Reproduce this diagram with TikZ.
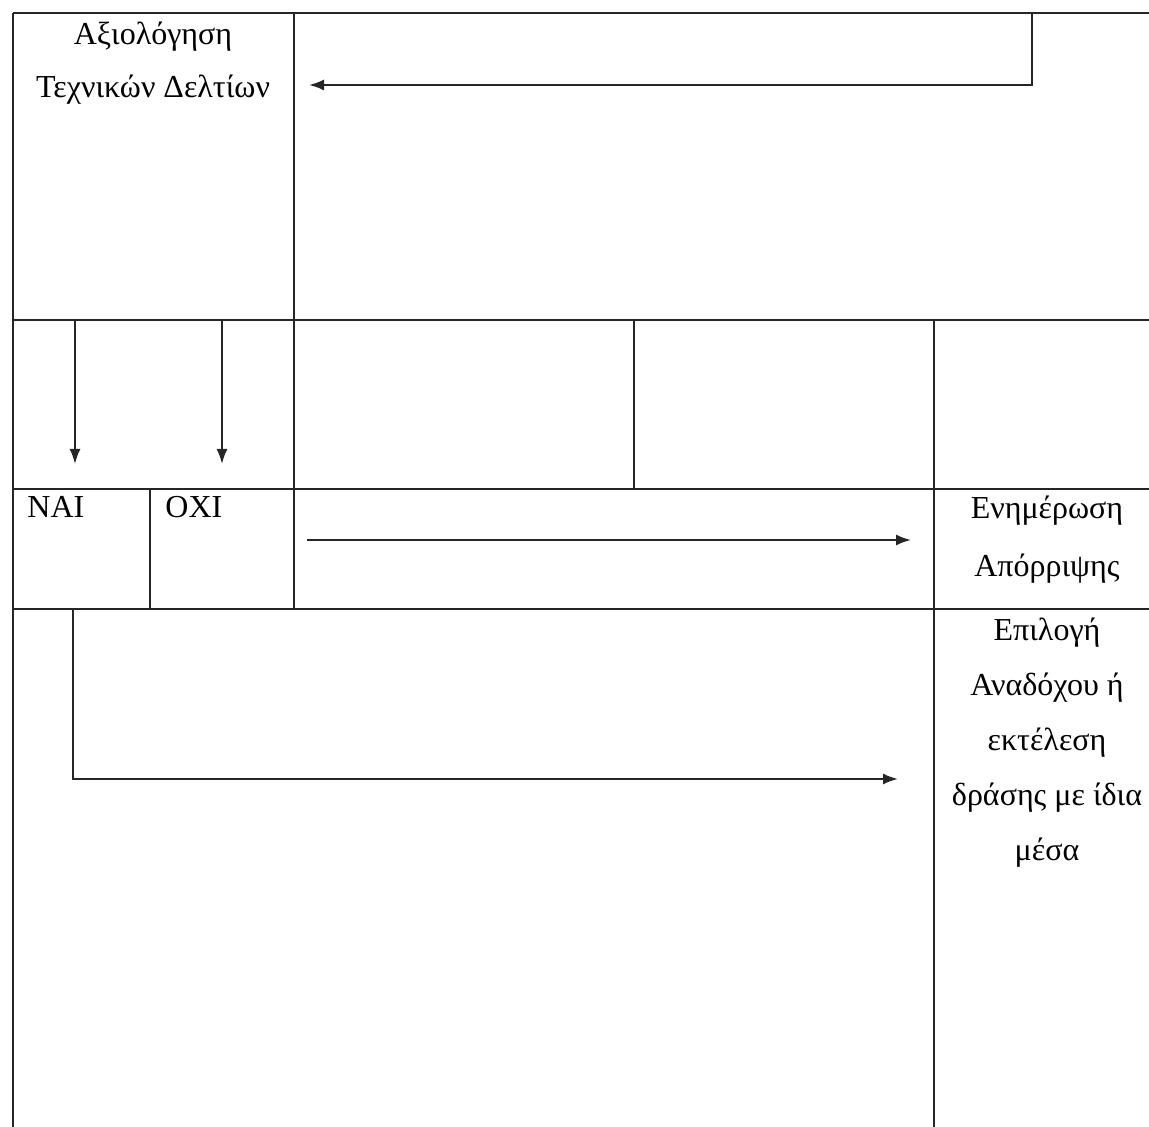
\documentclass[tikz,border=0pt]{standalone}
\usepackage{fontspec}
\setmainfont{Liberation Serif}
\usetikzlibrary{arrows.meta}
\tikzset{
  rule/.style={line width=1pt, draw=black!85},
  flow/.style={line width=1pt, draw=black!85, -{Latex[length=7.5pt,width=5.5pt]}},
  lbl/.style={anchor=base, inner sep=0pt, font=\fontsize{16pt}{19pt}\selectfont}
}
\begin{document}
\begin{tikzpicture}[x=0.5pt,y=-0.5pt]
\useasboundingbox (0,0) rectangle (1149,1127);
% table rules
\draw[rule] (13,13) -- (1149,13);
\draw[rule] (13,13) -- (13,1127);
\draw[rule] (294,13) -- (294,609);
\draw[rule] (13,320) -- (1149,320);
\draw[rule] (634,320) -- (634,489);
\draw[rule] (934,320) -- (934,1127);
\draw[rule] (13,489) -- (1149,489);
\draw[rule] (150,489) -- (150,609);
\draw[rule] (13,609) -- (1149,609);
% texts
\node[lbl] (t1a) at (153,45) {Αξιολόγηση};
\node[lbl] (t1b) at (153,98) {Τεχνικών Δελτίων};
\node[lbl, anchor=base west] (nai) at (27,517) {NAI};
\node[lbl, anchor=base west] (oxi) at (165,517) {OXI};
\node[lbl] (r1) at (1047,518) {Ενημέρωση};
\node[lbl] (r2) at (1047,576) {Απόρριψης};
\node[lbl] (s1) at (1047,640) {Επιλογή};
\node[lbl] (s2) at (1047,695) {Αναδόχου ή};
\node[lbl] (s3) at (1047,750) {εκτέλεση};
\node[lbl] (s4) at (1047,805) {δράσης με ίδια};
\node[lbl] (s5) at (1047,860) {μέσα};
% connector coordinates
\coordinate (aS) at (1032,13);
\coordinate (aC) at (1032,85);
\coordinate (aE) at (309,85);
\coordinate (bS) at (75,320);
\coordinate (bE) at (75,464);
\coordinate (cS) at (222,320);
\coordinate (cE) at (222,464);
\coordinate (dS) at (307,540);
\coordinate (dE) at (911,540);
\coordinate (eS) at (73,609);
\coordinate (eC) at (73,779);
\coordinate (eE) at (898,779);
% connectors
\draw[flow] (aS) -- (aC) -- (aE);
\draw[flow] (bS) -- (bE);
\draw[flow] (cS) -- (cE);
\draw[flow] (dS) -- (dE);
\draw[flow] (eS) -- (eC) -- (eE);
\end{tikzpicture}
\end{document}
